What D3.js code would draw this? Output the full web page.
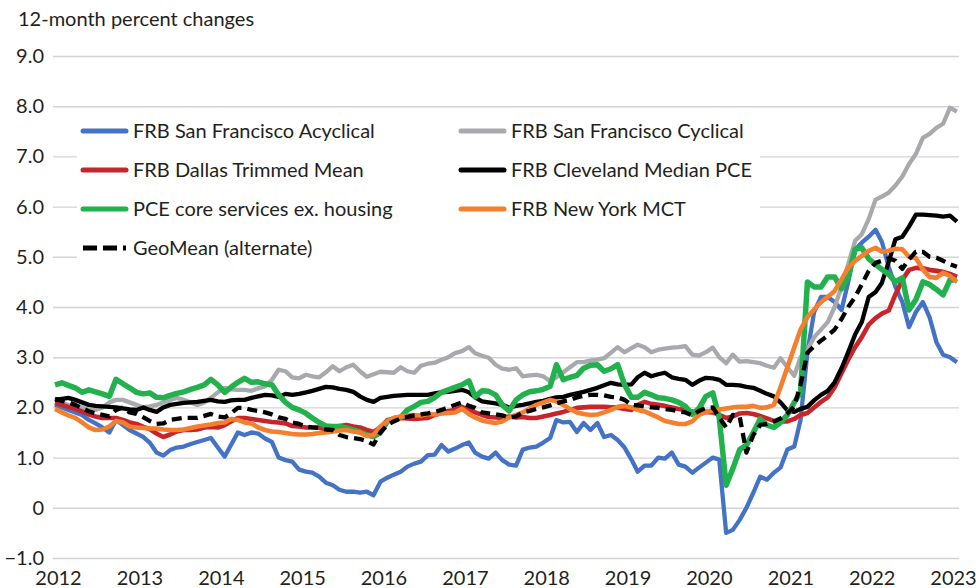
<!DOCTYPE html>
<html>
<head>
<meta charset="utf-8">
<script src="https://cdn.jsdelivr.net/npm/d3@7"></script>
<style>
  body { margin: 0; background: #fff; }
  svg text { font-family: "Lato", "Noto Sans", sans-serif; fill: #231f20; }
</style>
</head>
<body>
<svg id="chart" width="976" height="588"></svg>
<script>
// monthly values, Jan 2012 .. Feb 2023
const sfAcyclical = [
  2.05, 2.0, 1.95, 1.9, 1.85, 1.75, 1.68, 1.6, 1.5, 1.75, 1.65, 1.55,
  1.48, 1.41, 1.3, 1.1, 1.04, 1.15, 1.2, 1.22, 1.27, 1.31, 1.35, 1.39,
  1.2, 1.02, 1.25, 1.5, 1.45, 1.5, 1.48, 1.38, 1.31, 1.0, 0.95, 0.92,
  0.76, 0.72, 0.7, 0.62, 0.5, 0.45, 0.36, 0.32, 0.32, 0.3, 0.32, 0.25,
  0.52, 0.6, 0.66, 0.72, 0.82, 0.88, 0.92, 1.05, 1.06, 1.25, 1.12, 1.18,
  1.25, 1.3, 1.1, 1.02, 0.98, 1.1, 0.95, 0.86, 0.84, 1.16, 1.2, 1.22,
  1.3, 1.39, 1.75, 1.7, 1.71, 1.51, 1.69, 1.55, 1.69, 1.41, 1.45, 1.35,
  1.2, 0.96, 0.72, 0.84, 0.84, 1.0, 0.98, 1.1, 0.86, 0.82, 0.7, 0.8,
  0.9, 1.0, 0.96, -0.5, -0.44, -0.24, 0.0, 0.3, 0.62, 0.56, 0.7, 0.8,
  1.16, 1.22, 1.75, 3.1, 3.9, 4.2, 4.2, 4.1, 3.94, 4.5, 5.14, 5.28,
  5.4, 5.54, 5.3, 4.8, 4.4, 4.1, 3.6, 3.9, 4.1, 3.8, 3.3, 3.05,
  3.0, 2.9
];
const sfCyclical = [
  2.1, 2.1, 2.05, 2.0, 2.0, 1.95, 1.95, 2.0, 2.1, 2.15, 2.15, 2.1,
  2.05, 2.0, 2.02, 2.05, 2.1, 2.15, 2.19, 2.15, 2.1, 2.05, 2.1, 2.19,
  2.3, 2.39, 2.36, 2.35, 2.35, 2.33, 2.38, 2.42, 2.55, 2.75, 2.72, 2.6,
  2.58, 2.65, 2.62, 2.6, 2.7, 2.82, 2.72, 2.8, 2.85, 2.72, 2.61, 2.66,
  2.71, 2.7, 2.69, 2.8, 2.72, 2.69, 2.83, 2.87, 2.89, 2.95, 3.0, 3.08,
  3.12, 3.2, 3.08, 3.03, 2.99, 2.85, 2.77, 2.75, 2.78, 2.62, 2.64, 2.65,
  2.62, 2.52, 2.6, 2.7, 2.8, 2.9, 2.9, 2.93, 2.95, 2.98, 3.09, 3.2,
  3.1, 3.18, 3.25, 3.2, 3.1, 3.15, 3.17, 3.19, 3.2, 3.22, 3.05, 3.03,
  3.1, 3.19, 3.0, 2.88, 3.05, 2.91, 2.92, 2.9, 2.88, 2.83, 2.79, 2.98,
  2.8, 2.63, 3.0, 3.15, 3.4, 3.55, 3.7, 4.0, 4.4, 4.85, 5.32, 5.45,
  5.75, 6.14, 6.2, 6.28, 6.42, 6.6, 6.85, 7.05, 7.37, 7.45, 7.57, 7.65,
  7.97, 7.89
];
const dallasTrimmed = [
  2.09, 2.05, 2.01, 1.97, 1.92, 1.86, 1.82, 1.79, 1.79, 1.79, 1.75, 1.7,
  1.67, 1.61, 1.57, 1.48, 1.41, 1.46, 1.52, 1.55, 1.55, 1.56, 1.6, 1.61,
  1.6, 1.65, 1.72, 1.79, 1.79, 1.77, 1.75, 1.73, 1.71, 1.7, 1.68, 1.63,
  1.62, 1.6, 1.6, 1.6, 1.55, 1.6, 1.63, 1.65, 1.62, 1.6, 1.55, 1.51,
  1.6, 1.75, 1.77, 1.79, 1.78, 1.77, 1.78, 1.79, 1.85, 1.89, 1.93, 1.95,
  2.01, 1.95, 1.9, 1.85, 1.81, 1.8, 1.79, 1.82, 1.8, 1.81, 1.79, 1.79,
  1.82, 1.85, 1.88, 1.91, 1.95, 1.99, 2.0, 2.01, 2.01, 2.01, 2.0, 2.0,
  1.97, 1.95, 2.05, 2.11, 2.07, 2.05, 2.03, 2.0, 1.97, 1.95, 1.92, 1.89,
  1.91, 1.9, 1.85, 1.79, 1.82, 1.88, 1.89, 1.87, 1.83, 1.78, 1.73, 1.72,
  1.72, 1.77, 1.85, 1.89, 2.0, 2.11, 2.2, 2.4, 2.68, 2.95, 3.2, 3.4,
  3.65, 3.78, 3.87, 3.93, 4.25, 4.54, 4.74, 4.78, 4.77, 4.74, 4.72, 4.7,
  4.66, 4.6
];
const clevelandMedian = [
  2.15, 2.17, 2.19, 2.15, 2.1, 2.05, 2.03, 2.02, 2.01, 2.0, 1.98, 1.96,
  1.95, 2.0, 1.95, 1.91, 2.0, 2.05, 2.07, 2.09, 2.1, 2.11, 2.13, 2.15,
  2.12, 2.11, 2.14, 2.15, 2.15, 2.19, 2.22, 2.25, 2.24, 2.21, 2.27, 2.25,
  2.27, 2.3, 2.33, 2.37, 2.41, 2.4, 2.37, 2.35, 2.31, 2.22, 2.15, 2.11,
  2.19, 2.21, 2.23, 2.24, 2.25, 2.25, 2.25, 2.25, 2.28, 2.3, 2.31, 2.33,
  2.35, 2.3, 2.2, 2.12, 2.1, 2.08, 2.05, 2.0, 2.03, 2.05, 2.08, 2.11,
  2.13, 2.17, 2.2, 2.21, 2.25, 2.28, 2.31, 2.35, 2.39, 2.44, 2.49, 2.46,
  2.45, 2.46, 2.6, 2.69, 2.62, 2.66, 2.69, 2.6, 2.57, 2.55, 2.45, 2.53,
  2.59, 2.58, 2.55, 2.45, 2.45, 2.44, 2.41, 2.39, 2.33, 2.27, 2.22, 2.1,
  1.94, 1.91, 1.97, 2.01, 2.14, 2.25, 2.33, 2.5, 2.78, 3.1, 3.45, 3.7,
  4.2, 4.3, 4.48, 4.9, 5.35, 5.4, 5.6, 5.84, 5.84, 5.83, 5.82, 5.8,
  5.82, 5.7
];
const coreServices = [
  2.45, 2.49, 2.44, 2.39, 2.3, 2.35, 2.31, 2.27, 2.22, 2.56, 2.47, 2.39,
  2.3, 2.27, 2.29, 2.2, 2.19, 2.24, 2.28, 2.31, 2.36, 2.4, 2.45, 2.56,
  2.45, 2.3, 2.4, 2.5, 2.58, 2.5, 2.51, 2.47, 2.45, 2.25, 2.1, 2.0,
  1.95, 1.88, 1.79, 1.7, 1.63, 1.62, 1.62, 1.59, 1.55, 1.51, 1.45, 1.42,
  1.5, 1.72, 1.78, 1.8, 1.95, 2.02, 2.1, 2.12, 2.2, 2.3, 2.35, 2.4,
  2.45, 2.53, 2.21, 2.33, 2.32, 2.25, 2.05, 1.93, 2.15, 2.25, 2.31, 2.33,
  2.36, 2.42, 2.85, 2.55, 2.6, 2.64, 2.78, 2.84, 2.85, 2.72, 2.77, 2.85,
  2.45, 2.2, 2.2, 2.3, 2.25, 2.19, 2.18, 2.15, 2.1, 2.02, 1.86, 1.98,
  2.22, 2.29, 1.8, 0.45, 0.78, 1.16, 1.25, 1.5, 1.77, 1.65, 1.6, 1.7,
  1.85, 2.1, 2.3, 4.5, 4.4, 4.4, 4.6, 4.6, 4.36, 4.6, 5.15, 5.18,
  4.96, 4.85, 4.75, 4.65, 4.5, 4.58, 3.94, 4.15, 4.5, 4.45, 4.35, 4.24,
  4.54, 4.54
];
const nyMCT = [
  1.97, 1.9, 1.84, 1.79, 1.7, 1.6, 1.55, 1.56, 1.62, 1.73, 1.7, 1.62,
  1.6, 1.59, 1.58, 1.58, 1.56, 1.55, 1.55, 1.56, 1.59, 1.62, 1.64, 1.66,
  1.69, 1.7, 1.77, 1.75, 1.7, 1.68, 1.6, 1.55, 1.52, 1.51, 1.49, 1.47,
  1.46, 1.46, 1.47, 1.49, 1.5, 1.52, 1.54, 1.55, 1.52, 1.5, 1.43, 1.45,
  1.62, 1.72, 1.79, 1.82, 1.84, 1.85, 1.84, 1.87, 1.86, 1.88, 1.89, 1.9,
  1.97, 1.87, 1.8, 1.74, 1.71, 1.69, 1.72, 1.8, 1.85, 1.9, 1.98, 2.05,
  2.1, 2.15, 2.12, 2.05, 1.97, 1.9, 1.87, 1.85, 1.86, 1.9, 1.95, 2.01,
  2.03, 2.0, 1.95, 1.92, 1.86, 1.8, 1.73, 1.7, 1.67, 1.67, 1.72, 1.85,
  1.91, 1.94, 1.96, 1.98, 2.0, 2.01, 2.01, 2.03, 1.99, 2.0, 2.05, 2.4,
  2.8, 3.2, 3.55, 3.8, 3.95, 4.1, 4.2, 4.32, 4.55, 4.78, 4.92, 5.02,
  5.12, 5.18, 5.1, 5.12, 5.16, 5.15, 5.0, 4.97, 4.75, 4.6, 4.58, 4.68,
  4.62, 4.5
];
const geoMean = [
  2.17, 2.13, 2.1, 2.05, 1.99, 1.92, 1.88, 1.85, 1.82, 1.95, 2.0, 1.9,
  1.87, 1.8, 1.73, 1.67, 1.68, 1.75, 1.77, 1.79, 1.79, 1.79, 1.83, 1.87,
  1.82, 1.8, 1.88, 1.99, 1.99, 1.95, 1.93, 1.9, 1.86, 1.8, 1.77, 1.7,
  1.67, 1.62, 1.6, 1.59, 1.56, 1.55, 1.45, 1.41, 1.39, 1.37, 1.33, 1.26,
  1.5, 1.65, 1.72, 1.78, 1.81, 1.84, 1.86, 1.88, 1.91, 1.95, 2.0, 2.05,
  2.1, 2.03, 1.99, 1.9, 1.88, 1.86, 1.84, 1.8, 1.82, 1.9, 1.93, 1.97,
  2.0, 2.04, 2.08, 2.12, 2.15, 2.2, 2.23, 2.25, 2.25, 2.24, 2.21, 2.2,
  2.15, 2.05, 2.04, 2.02, 2.0, 1.99, 1.97, 1.95, 1.92, 1.9, 1.84, 1.93,
  1.99, 2.0, 1.8, 1.6, 1.85, 1.81, 1.1, 1.45, 1.65, 1.67, 1.72, 1.78,
  1.88, 2.02, 2.45, 3.09, 3.22, 3.33, 3.43, 3.55, 3.76, 4.0, 4.2, 4.45,
  4.72, 4.88, 4.92, 4.97, 4.92, 4.76, 4.95, 5.1, 5.1, 5.0, 4.98, 4.92,
  4.85, 4.8
];

const seriesNames = [
  "FRB San Francisco Acyclical", "FRB San Francisco Cyclical",
  "FRB Dallas Trimmed Mean", "FRB Cleveland Median PCE",
  "PCE core services ex. housing", "FRB New York MCT",
  "GeoMean (alternate)"
];
const yTicks = [-1, 0, 1, 2, 3, 4, 5, 6, 7, 8, 9];
const years = d3.range(2012, 2024);

// series styles
const series = [
  { name: seriesNames[0], values: sfAcyclical, color: "#4472c4", width: 4.3 },
  { name: seriesNames[1], values: sfCyclical, color: "#a7a9ac", width: 4.3 },
  { name: seriesNames[2], values: dallasTrimmed, color: "#c8242b", width: 4.6 },
  { name: seriesNames[3], values: clevelandMedian, color: "#000000", width: 4.3 },
  { name: seriesNames[4], values: coreServices, color: "#22b14c", width: 5.5 },
  { name: seriesNames[5], values: nyMCT, color: "#f47f2e", width: 4.6 },
  { name: seriesNames[6], values: geoMean, color: "#000000", width: 4.3, dash: "10,6" }
];

const svg = d3.select("#chart");
const left = 53, right = 959;

const x = d3.scaleTime()
  .domain([new Date(2012, 0, 1), new Date(2023, 0, 1)])
  .range([55, 950]);
const y = d3.scaleLinear().domain([-1, 9]).range([558, 56]);

// y axis with gridlines
const yAxis = svg.append("g")
  .attr("transform", `translate(${left},0)`)
  .call(d3.axisLeft(y)
    .tickValues(yTicks)
    .tickSize(-(right - left))
    .tickPadding(9)
    .tickFormat(d => d === 0 ? "0" : d < 0 ? "\u2212" + Math.abs(d).toFixed(1) : d.toFixed(1)));
yAxis.select(".domain").remove();
yAxis.selectAll(".tick line").attr("stroke", "#d3d3d3").attr("stroke-width", 1.4);
yAxis.selectAll(".tick text").style("font-size", "20px").attr("fill", "#231f20");

// x axis labels (kept just inside the bottom edge)
const xAxis = svg.append("g")
  .attr("transform", "translate(3,567)")
  .call(d3.axisBottom(x)
    .tickValues(years.map(yr => new Date(yr, 0, 1)))
    .tickSize(0)
    .tickPadding(0)
    .tickFormat(d3.timeFormat("%Y")));
xAxis.select(".domain").remove();
xAxis.selectAll(".tick text").style("font-size", "20px").attr("fill", "#231f20").attr("dy", "0.9em");

// title
svg.append("text").attr("x", 18).attr("y", 26).style("font-size", "20px").text("12-month percent changes");

// legend box covers gridlines
svg.append("rect").attr("x", 77).attr("y", 113).attr("width", 683).attr("height", 157).attr("fill", "#fff");

const line = d3.line()
  .x((d, i) => x(new Date(2012, i, 1)))
  .y(d => y(d));

svg.append("g").selectAll("path")
  .data(series)
  .join("path")
  .attr("fill", "none")
  .attr("stroke", d => d.color)
  .attr("stroke-width", d => d.width)
  .attr("stroke-linejoin", "round")
  .attr("stroke-dasharray", d => d.dash || null)
  .attr("d", d => line(d.values));

// legend
const legend = svg.append("g");
series.forEach((s, i) => {
  const col = i % 2, row = Math.floor(i / 2);
  const lx = col === 0 ? 83 : 461;
  const ly = 131 + row * 39;
  legend.append("line")
    .attr("x1", lx).attr("x2", lx + 43).attr("y1", ly).attr("y2", ly)
    .attr("stroke", s.color).attr("stroke-width", 5)
    .attr("stroke-linecap", s.dash ? "butt" : "round")
    .attr("stroke-dasharray", s.dash ? "14,6" : null);
  legend.append("text")
    .attr("x", lx + 50).attr("y", ly)
    .attr("dy", "0.35em")
    .style("font-size", "20px")
    .text(s.name);
});
</script>
</body>
</html>
